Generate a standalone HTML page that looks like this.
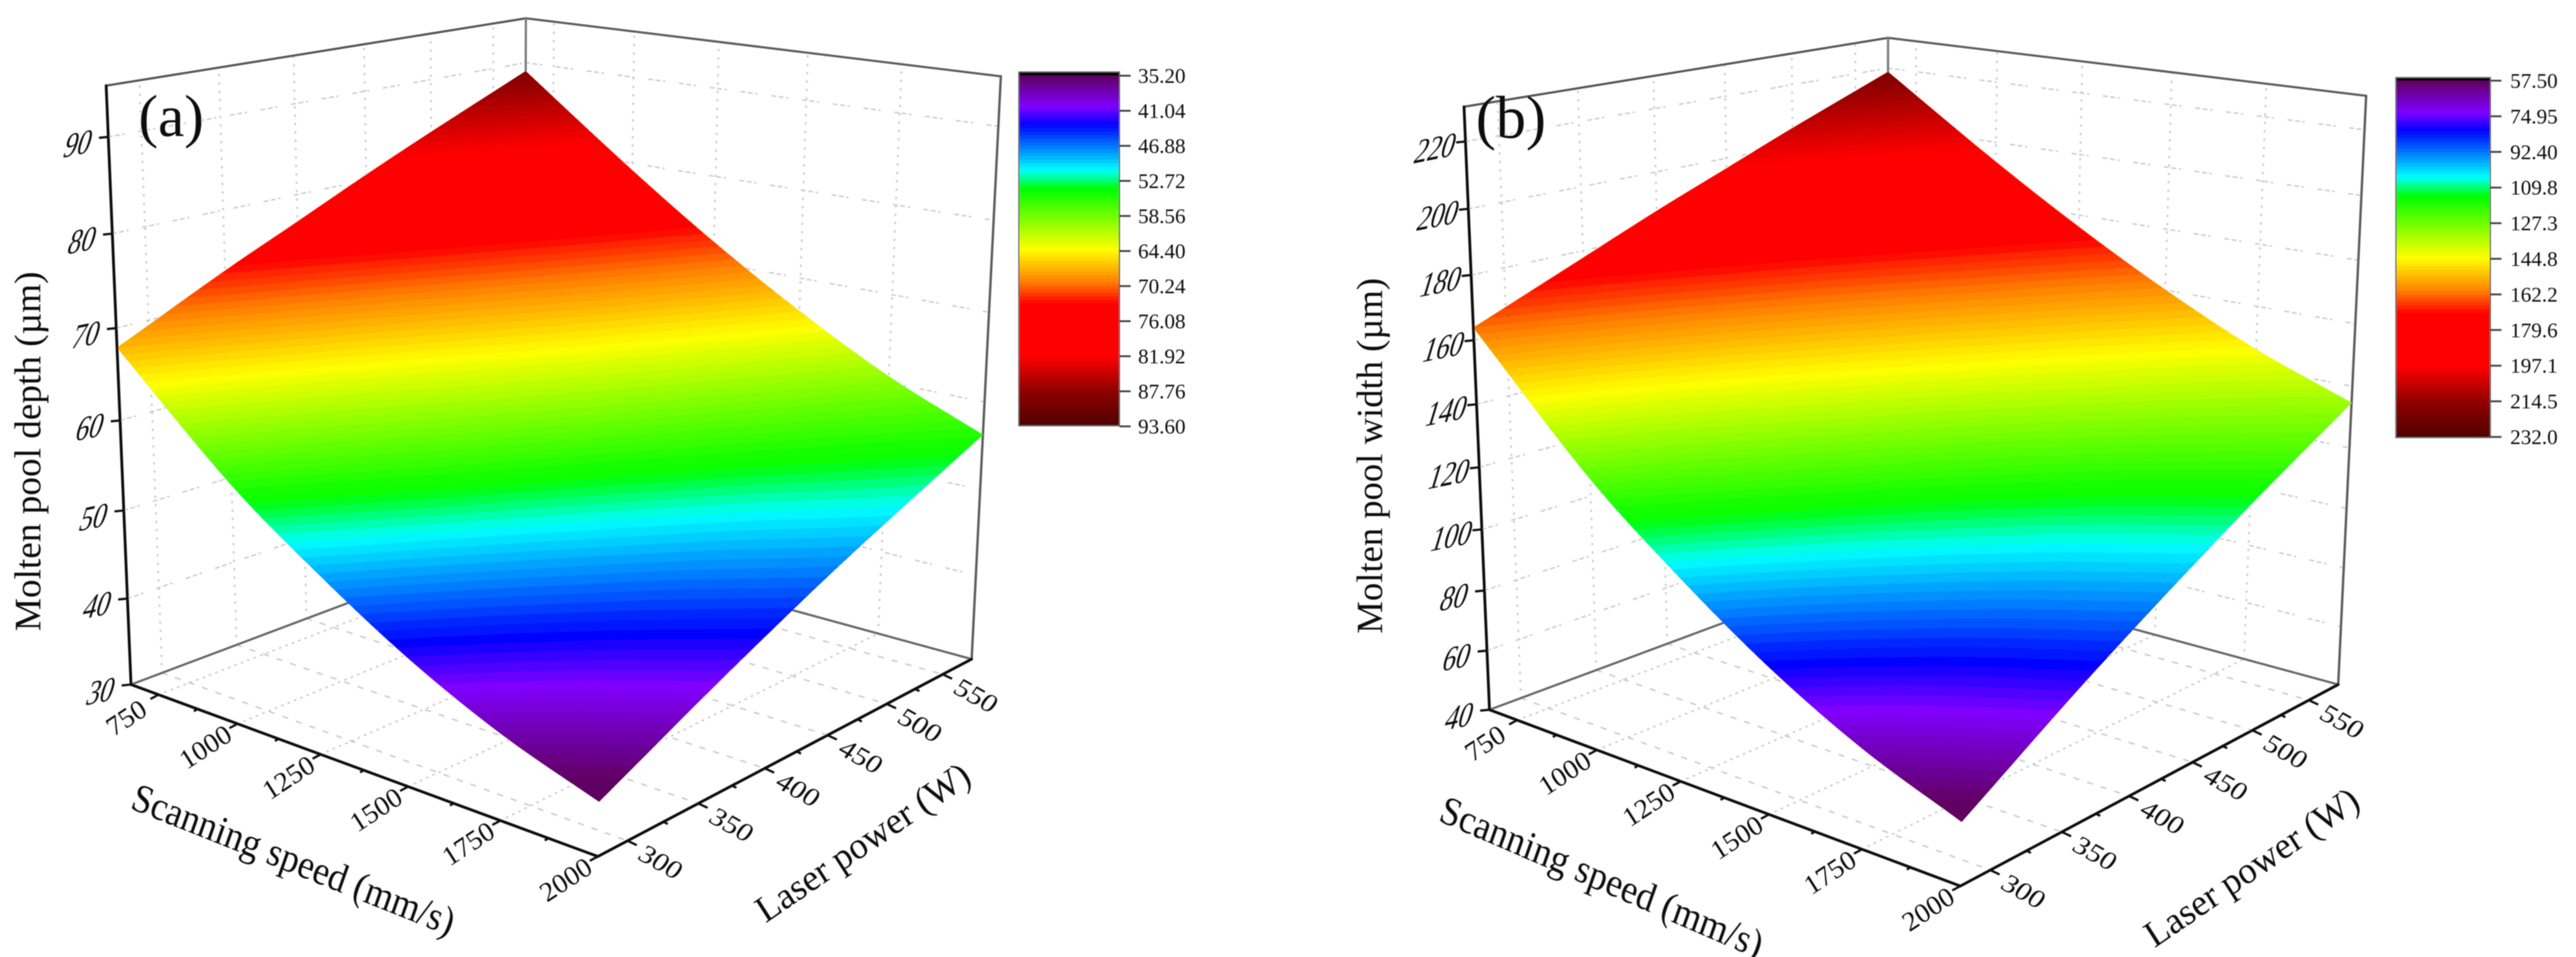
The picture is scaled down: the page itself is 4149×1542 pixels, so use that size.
<!DOCTYPE html>
<html lang="en">
<head>
<meta charset="utf-8">
<title>Molten pool depth and width response surfaces</title>
<style>
html,body{margin:0;padding:0;background:#fff;}
svg{display:block;}
text{font-family:"Liberation Serif","DejaVu Serif",serif;fill:#111;}
</style>
</head>
<body>
<svg id="figure" xmlns="http://www.w3.org/2000/svg" width="4149" height="1542" viewBox="0 0 4149 1542">
  <defs>
    <filter id="soft" filterUnits="userSpaceOnUse" x="0" y="0" width="4149" height="1542">
      <feGaussianBlur stdDeviation="0.9"/>
    </filter>
  </defs>
  <rect x="0" y="0" width="4149" height="1542" fill="#ffffff"/>
  <g filter="url(#soft)">
    <g id="panel-a">
      <g id="a-grid"></g>
      <g id="a-box"></g>
      <g id="a-surface"></g>
      <g id="a-ticks"></g>
      <g id="a-bar"></g>
      <text x="223" y="219" font-size="95">(a)</text>
      <text transform="translate(65,1017) rotate(-90)" font-size="60">Molten pool depth (µm)</text>
      <text transform="matrix(0.763 0.305 -0.3 0.85 208 1302)" font-size="72">Scanning speed (mm/s)</text>
      <text transform="matrix(0.68 -0.465 0.45 0.7 1233 1488)" font-size="72">Laser power (W)</text>
    </g>
    <g id="panel-b">
      <g id="b-grid"></g>
      <g id="b-box"></g>
      <g id="b-surface"></g>
      <g id="b-ticks"></g>
      <g id="b-bar"></g>
      <text x="2377" y="222" font-size="97">(b)</text>
      <text transform="translate(2226,1021) rotate(-90)" font-size="59">Molten pool width (µm)</text>
      <text transform="matrix(0.763 0.33 -0.3 0.85 2315 1322)" font-size="72">Scanning speed (mm/s)</text>
      <text transform="matrix(0.68 -0.465 0.45 0.7 3470 1528)" font-size="72">Laser power (W)</text>
    </g>
  </g>
</svg>
<script>
// ---- chart data ----
const speedGrid = [660, 1000, 1250, 1500, 1750, 2000];
const powerGrid = [280, 350, 400, 450, 500, 577];
// rows follow powerGrid, columns follow speedGrid
const depthRow280 = [67.9, 56.5, 49.8, 43.9, 39.2, 35.7];
const depthRow350 = [73.4, 62.6, 55.9, 49.8, 44.9, 41.2];
const depthRow400 = [77.0, 66.6, 60.0, 53.8, 48.7, 44.9];
const depthRow450 = [80.6, 70.4, 63.8, 57.6, 52.3, 48.4];
const depthRow500 = [84.0, 74.0, 67.3, 61.1, 55.8, 51.6];
const depthRow577 = [89.0, 79.2, 72.4, 66.2, 60.7, 56.3];
const widthRow280 = [163.9, 126.9, 105.1, 86.0, 70.7, 59.3];
const widthRow350 = [177.8, 144.8, 124.3, 105.8, 90.7, 79.6];
const widthRow400 = [187.6, 156.7, 137.0, 118.9, 104.0, 93.0];
const widthRow450 = [196.7, 167.8, 148.7, 131.4, 116.6, 105.6];
const widthRow500 = [205.7, 178.4, 160.0, 143.2, 128.8, 117.6];
const widthRow577 = [218.7, 193.5, 176.1, 160.1, 146.0, 134.7];
const depthValues = [depthRow280, depthRow350, depthRow400, depthRow450, depthRow500, depthRow577];
const widthValues = [widthRow280, widthRow350, widthRow400, widthRow450, widthRow500, widthRow577];
const speedTicks = [750, 1000, 1250, 1500, 1750, 2000];
const powerTicks = [300, 350, 400, 450, 500, 550];
const depthTicks = [30, 40, 50, 60, 70, 80, 90];
const widthTicks = [40, 60, 80, 100, 120, 140, 160, 180, 200, 220];
const depthBarLabels = ["35.20","41.04","46.88","52.72","58.56","64.40","70.24","76.08","81.92","87.76","93.60"];
const widthBarLabels = ["57.50","74.95","92.40","109.8","127.3","144.8","162.2","179.6","197.1","214.5","232.0"];
const depthColorRange = [35.2, 93.6];
const widthColorRange = [57.5, 232.0];
const bandCount = 100;
// colormap: fraction along the colour range and its colour
const colorFractions = [0, 0.088, 0.14, 0.27, 0.324, 0.497, 0.589, 0.652, 0.80, 0.90, 1];
const colorReds   = [96, 128, 0, 0, 0, 255, 255, 255, 255, 144, 80];
const colorGreens = [0, 0, 0, 255, 255, 255, 128, 0, 0, 0, 0];
const colorBlues  = [96, 255, 255, 255, 0, 0, 0, 0, 0, 0, 0];
// offset between the surface colouring and the colour bar
const offsetFractions = [0, 0.14, 0.32, 0.5, 0.65, 0.8, 1];
const offsetAmounts   = [0.027, 0.027, 0.017, 0.011, 0.011, 0, 0];

// ---- helpers ----
const NS = 'http://www.w3.org/2000/svg';
function mk(tag, attrs, parent) {
  const n = document.createElementNS(NS, tag);
  for (const k in attrs) n.setAttribute(k, attrs[k]);
  parent.appendChild(n);
  return n;
}
function perspective(t, k) { return t / (t + k * (1 - t)); }
function lerp(a, b, t) { return a + (b - a) * t; }
function colorAt(f) {
  f = Math.max(0, Math.min(1, f));
  let i = 0;
  while (i < colorFractions.length - 2 && f > colorFractions[i + 1]) i++;
  const t = (f - colorFractions[i]) / (colorFractions[i + 1] - colorFractions[i]);
  const r = Math.round(lerp(colorReds[i], colorReds[i + 1], t));
  const g = Math.round(lerp(colorGreens[i], colorGreens[i + 1], t));
  const b = Math.round(lerp(colorBlues[i], colorBlues[i + 1], t));
  return 'rgb(' + r + ',' + g + ',' + b + ')';
}
function surfaceColorAt(f) {
  let i = 0;
  while (i < offsetFractions.length - 2 && f > offsetFractions[i + 1]) i++;
  const t = (f - offsetFractions[i]) / (offsetFractions[i + 1] - offsetFractions[i]);
  return colorAt(f - lerp(offsetAmounts[i], offsetAmounts[i + 1], t));
}
function hermite(xs, ys, x) {
  const n = xs.length;
  if (x <= xs[0]) return ys[0];
  if (x >= xs[n - 1]) return ys[n - 1];
  let i = 0;
  while (x > xs[i + 1]) i++;
  const slope = j => {
    if (j === 0) return (ys[1] - ys[0]) / (xs[1] - xs[0]);
    if (j === n - 1) return (ys[n - 1] - ys[n - 2]) / (xs[n - 1] - xs[n - 2]);
    return (ys[j + 1] - ys[j - 1]) / (xs[j + 1] - xs[j - 1]);
  };
  const h = xs[i + 1] - xs[i], t = (x - xs[i]) / h;
  const t2 = t * t, t3 = t2 * t;
  return (2 * t3 - 3 * t2 + 1) * ys[i] + (t3 - 2 * t2 + t) * h * slope(i) +
         (-2 * t3 + 3 * t2) * ys[i + 1] + (t3 - t2) * h * slope(i + 1);
}
function pathFrom(points, close) {
  return 'M' + points.map(q => q[0].toFixed(1) + ' ' + q[1].toFixed(1)).join('L') + (close ? 'Z' : '');
}

// ---- panel renderer ----
function drawPanel(cfg) {
  const s0 = speedGrid[0], s1 = speedGrid[speedGrid.length - 1];
  const p0 = powerGrid[0], p1 = powerGrid[powerGrid.length - 1];
  const c = cfg.corners;
  function project(s, p, z) {
    const u = perspective((s - s0) / (s1 - s0), 1.15);
    const v = perspective((p - p0) / (p1 - p0), 0.84);
    const w = perspective((z - cfg.zMin) / (cfg.zMax - cfg.zMin), 1.08);
    const out = [0, 0];
    for (let a = 0; a < 2; a++) {
      const bottom = lerp(lerp(c.leftBottom[a], c.frontBottom[a], u), lerp(c.backBottom[a], c.rightBottom[a], u), v);
      const top = lerp(lerp(c.leftTop[a], c.frontTop[a], u), lerp(c.backTop[a], c.rightTop[a], u), v);
      out[a] = lerp(bottom, top, w);
    }
    return out;
  }
  function surface(s, p) {
    const col = cfg.values.map(row => hermite(speedGrid, row, s));
    return hermite(powerGrid, col, p);
  }
  const zB = cfg.zMin, zT = cfg.zMax;

  // gridlines
  const gridG = document.getElementById(cfg.id + '-grid');
  function gridLine(a, b, dash, width, name) {
    const n = mk('path', {d: pathFrom([a, b]), fill: 'none', stroke: '#cbcbcb', 'stroke-width': width, 'stroke-dasharray': dash, 'stroke-linecap': 'round'}, gridG);
    
    
  }
  powerTicks.forEach(p => {
    gridLine(project(s0, p, zB), project(s0, p, zT), '1 12.5', 3, 'wall-gridline-power');
    gridLine(project(s0, p, zB), project(s1, p, zB), '8 15', 2.4, 'floor-gridline-power');
  });
  speedTicks.forEach(s => {
    gridLine(project(s, p1, zB), project(s, p1, zT), '1 12.5', 3, 'wall-gridline-speed');
    gridLine(project(s, p0, zB), project(s, p1, zB), '2 9', 2.6, 'floor-gridline-speed');
  });
  cfg.zTicks.forEach(z => {
    gridLine(project(s0, p0, z), project(s0, p1, z), '6 6 6 6 2 24', 2.3, 'wall-gridline-z');
    gridLine(project(s0, p1, z), project(s1, p1, z), '6 6 6 6 2 24', 2.3, 'wall-gridline-z');
  });

  // box frame
  const boxG = document.getElementById(cfg.id + '-box');
  function boxLine(a, b, color, width, name) {
    const n = mk('path', {d: pathFrom([a, b]), fill: 'none', stroke: color, 'stroke-width': width, 'stroke-linecap': 'round'}, boxG);
    
    
  }
  boxLine(project(s0, p0, zT), project(s0, p1, zT), '#555', 3.5, 'box-top-left-edge');
  boxLine(project(s0, p1, zT), project(s1, p1, zT), '#5c5c5c', 3.5, 'box-top-right-edge');
  boxLine(project(s0, p1, zB), project(s0, p1, zT), '#777', 3.5, 'box-back-edge');
  boxLine(project(s1, p1, zB), project(s1, p1, zT), '#5c5c5c', 3.8, 'box-right-edge');
  boxLine(project(s0, p0, zB), project(s0, p1, zB), '#666', 3.5, 'box-floor-left-edge');
  boxLine(project(s0, p1, zB), project(s1, p1, zB), '#666', 3.5, 'box-floor-right-edge');

  // surface bands, painted from the lowest level up
  const surfG = document.getElementById(cfg.id + '-surface');
  const lo = cfg.colorRange[0], hi = cfg.colorRange[1], step = (hi - lo) / bandCount;
  const N = 80;
  for (let i = 0; i < bandCount; i++) {
    const level = i === 0 ? -Infinity : lo + i * step;
    const pts = [];
    const onEdge = surface(s0, p1);
    if (onEdge < level) continue;
    let pStart = p0;
    if (surface(s0, p0) < level) {
      let a = p0, b = p1;
      for (let k = 0; k < 24; k++) {
        const m = (a + b) / 2;
        if (surface(s0, m) >= level) b = m; else a = m;
      }
      pStart = b;
    }
    let firstS = s0;
    for (let j = 0; j <= N; j++) {
      const p = pStart + (p1 - pStart) * j / N;
      let sStar = s1;
      if (surface(s1, p) < level) {
        let a = s0, b = s1;
        for (let k = 0; k < 16; k++) {
          const m = (a + b) / 2;
          if (surface(m, p) >= level) a = m; else b = m;
        }
        sStar = a;
      }
      if (j === 0) firstS = sStar;
      if (j === N) {
        for (let e = 0; e < 30; e++) {
          const s = sStar + (s0 - sStar) * e / 30;
          pts.push(project(s, p1, surface(s, p1)));
        }
      } else {
        pts.push(project(sStar, p, surface(sStar, p)));
      }
    }
    for (let j = 0; j <= 20; j++) {
      const p = p1 + (pStart - p1) * j / 20;
      pts.push(project(s0, p, surface(s0, p)));
    }
    if (pStart === p0) {
      // follow the curved low-power edge back to the start of the contour
      for (let e = 1; e < 40; e++) {
        const s = s0 + (firstS - s0) * e / 40;
        pts.push(project(s, p0, surface(s, p0)));
      }
    }
    const band = mk('path', {d: pathFrom(pts, true), fill: surfaceColorAt((i + 0.5) / bandCount)}, surfG);
    
    
  }

  // axes, ticks and labels
  const tickG = document.getElementById(cfg.id + '-ticks');
  function axisLine(a, b, name) {
    const n = mk('path', {d: pathFrom([a, b]), fill: 'none', stroke: '#0c0c0c', 'stroke-width': 4.5, 'stroke-linecap': 'round'}, tickG);
    
    
  }
  axisLine(project(s0, p0, zB), project(s0, p0, zT), 'z-axis-line');
  axisLine(project(s0, p0, zB), project(s1, p0, zB), 'speed-axis-line');
  axisLine(project(s1, p0, zB), project(s1, p1, zB), 'power-axis-line');
  function tick(a, dx, dy, name) {
    const n = mk('path', {d: pathFrom([a, [a[0] + dx, a[1] + dy]]), fill: 'none', stroke: '#111', 'stroke-width': 3.6}, tickG);
    
    
  }
  function label(str, a, dx, dy, m, size, name) {
    const n = mk('text', {transform: 'matrix(' + m.join(' ') + ' ' + (a[0] + dx).toFixed(1) + ' ' + (a[1] + dy).toFixed(1) + ')', 'text-anchor': 'middle', dy: '0.34em', 'font-size': size}, tickG);
    n.textContent = str;
    
    
  }
  cfg.zTicks.forEach(z => {
    const a = project(s0, p0, z);
    tick(a, -15, 1.5, 'z-axis-tick');
    label(String(z), a, -48, 10, [0.75, -0.15, -0.3, 1], 57, 'z-axis-tick-label');
  });
  speedTicks.forEach((s, i) => {
    const a = project(s, p0, zB);
    tick(a, -13, 7, 'speed-axis-tick');
    label(String(s), a, -52, 37, [0.76, -0.5, 0.47, 0.74], 50, 'speed-axis-tick-label');
    if (i < speedTicks.length - 1) {
      const mid = project((s + speedTicks[i + 1]) / 2, p0, zB);
      tick(mid, -6, 3.5, 'speed-axis-minor-tick');
    }
  });
  powerTicks.forEach((p, i) => {
    const a = project(s1, p, zB);
    tick(a, 15, 7, 'power-axis-tick');
    label(String(p), a, 54, 34, [0.84, 0.47, -0.5, 0.69], 50, 'power-axis-tick-label');
    if (i < powerTicks.length - 1) {
      const mid = project(s1, (p + powerTicks[i + 1]) / 2, zB);
      tick(mid, 7, 3.5, 'power-axis-minor-tick');
    }
  });

  // colour bar
  const barG = document.getElementById(cfg.id + '-bar');
  const b = cfg.bar;
  const bandH = (b.bottom - b.tickTop) / bandCount;
  for (let i = 0; i < bandCount; i++) {
    const r = mk('rect', {x: b.left, y: (b.tickTop + i * bandH).toFixed(2), width: b.right - b.left, height: (bandH + 0.6).toFixed(2), fill: colorAt((i + 0.5) / bandCount)}, barG);
    
    
  }
  const capTop = mk('rect', {x: b.left, y: b.top, width: b.right - b.left, height: b.tickTop - b.top, fill: '#000'}, barG);
  
  
  const frame = mk('rect', {x: b.left, y: b.top, width: b.right - b.left, height: b.bottom - b.top, fill: 'none', stroke: '#666', 'stroke-width': 2}, barG);
  
  
  const tickStep = (b.tickBottom - b.tickTop) / (cfg.barLabels.length - 1);
  cfg.barLabels.forEach((txt, i) => {
    const y = b.tickTop + i * tickStep;
    const t = mk('path', {d: pathFrom([[b.right, y], [b.right + 18, y]]), stroke: '#444', 'stroke-width': 3}, barG);
    
    
    const l = mk('text', {x: b.labelX, y: (y + 11.5).toFixed(1), 'font-size': 34, fill: '#222'}, barG);
    l.textContent = txt;
    
    
  });
}

drawPanel({
  id: 'a', values: depthValues, zTicks: depthTicks, zMin: 30, zMax: 95.2,
  colorRange: depthColorRange, barLabels: depthBarLabels,
  corners: {
    leftBottom: [211, 1103], leftTop: [171, 138], backTop: [847, 29.5], backBottom: [844, 865],
    rightTop: [1612, 123], rightBottom: [1565, 1062], frontBottom: [963, 1380], frontTop: [986, 300]
  },
  bar: {left: 1641, right: 1803, top: 116, tickTop: 122, bottom: 686, tickBottom: 687, labelX: 1833}
});
drawPanel({
  id: 'b', values: widthValues, zTicks: widthTicks, zMin: 40, zMax: 230.2,
  colorRange: widthColorRange, barLabels: widthBarLabels,
  corners: {
    leftBottom: [2399, 1143.6], leftTop: [2358, 172], backTop: [3041, 61], backBottom: [3039.7, 905.6],
    rightTop: [3811, 154.4], rightBottom: [3766, 1103], frontBottom: [3157.4, 1427.7], frontTop: [3180, 336]
  },
  bar: {left: 3859, right: 4011, top: 125, tickTop: 130, bottom: 705, tickBottom: 704, labelX: 4043}
});
</script>
</body>
</html>
